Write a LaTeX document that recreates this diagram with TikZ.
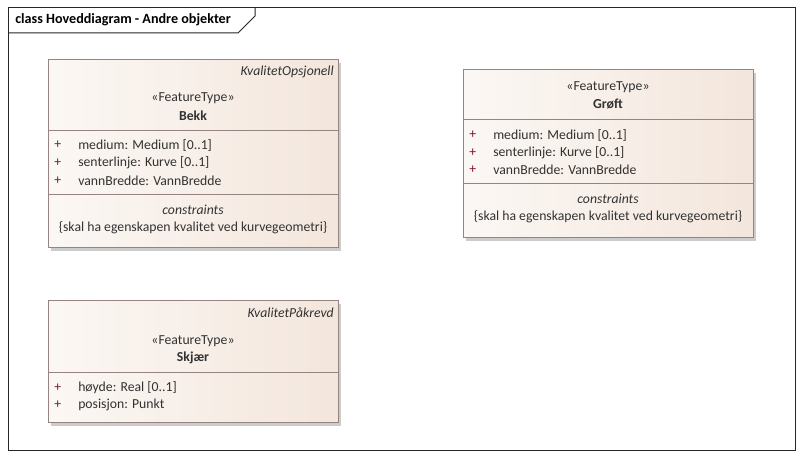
\documentclass[tikz,border=0pt]{standalone}
\usepackage{fontspec}
\setmainfont{Carlito}
\usetikzlibrary{positioning}
\definecolor{umlborder}{RGB}{150,132,128}
\definecolor{umlfill}{RGB}{243,230,220}
\definecolor{umltext}{RGB}{50,50,50}
\definecolor{umlplus}{RGB}{130,20,50}

\begin{document}
\begin{tikzpicture}[
    x=0.75pt, y=-0.75pt,
    frame/.style={draw=black!85, line width=0.75pt},
    classbox/.style={draw=umlborder, left color=white!70!umlfill, right color=umlfill, line width=0.75pt},
    shadowbox/.style={fill=black!20, draw=none},
    sepline/.style={draw=umlborder, line width=0.75pt},
    txt/.style={font=\fontsize{10.3}{12}\selectfont, text=umltext, inner sep=0pt},
    stereo/.style={txt},
    cname/.style={txt, font=\fontsize{10.3}{12}\selectfont\bfseries},
    tagged/.style={txt, font=\fontsize{10.3}{12}\selectfont\itshape, anchor=east},
    attr/.style={txt, anchor=west},
    plus/.style={txt, text=umlplus, anchor=west}
]
    \useasboundingbox (0,0) rectangle (804,459);
    \fill[white] (0,0) rectangle (804,459);

    % Frame
    \draw[frame] (8,8) rectangle (795,451);
    \draw[frame] (8,33) -- (238,33) -- (255,16) -- (255,8);
    \node[txt, font=\fontsize{10.6}{12}\selectfont\bfseries, text=black, anchor=west] (title) at (15,20) {class Hoveddiagram - Andre objekter};

    % Bekk
    \fill[shadowbox] (51,63) rectangle (341,251);
    \path[classbox] (48,60) rectangle (338,248);
    \draw[sepline] (48,131) -- (338,131);
    \draw[sepline] (48,195) -- (338,195);
    \node[tagged] (bekktag) at (334,72) {KvalitetOpsjonell};
    \node[stereo] (bekkst) at (193,98) {«FeatureType»};
    \node[cname] (bekk) at (193,116) {Bekk};
    \node[plus] (bekkp1) at (54,145) {+};
    \node[plus] (bekkp2) at (54,163) {+};
    \node[plus] (bekkp3) at (54,181) {+};
    \node[attr] (bekka1) at (78,145) {medium: Medium [0..1]};
    \node[attr] (bekka2) at (78,163) {senterlinje: Kurve [0..1]};
    \node[attr] (bekka3) at (78,181) {vannBredde: VannBredde};
    \node[txt, font=\fontsize{10.3}{12}\selectfont\itshape] (bekkc) at (193,210) {constraints};
    \node[txt] (bekkk) at (193,228) {\{skal ha egenskapen kvalitet ved kurvegeometri\}};

    % Grøft
    \fill[shadowbox] (466,73) rectangle (756,241);
    \path[classbox] (463,70) rectangle (753,238);
    \draw[sepline] (463,120) -- (753,120);
    \draw[sepline] (463,184) -- (753,184);
    \node[stereo] (groftst) at (608,87) {«FeatureType»};
    \node[cname] (groft) at (608,104) {Grøft};
    \node[plus] (groftp1) at (469,135) {+};
    \node[plus] (groftp2) at (469,153) {+};
    \node[plus] (groftp3) at (469,170) {+};
    \node[attr] (grofta1) at (493,135) {medium: Medium [0..1]};
    \node[attr] (grofta2) at (493,153) {senterlinje: Kurve [0..1]};
    \node[attr] (grofta3) at (493,170) {vannBredde: VannBredde};
    \node[txt, font=\fontsize{10.3}{12}\selectfont\itshape] (groftc) at (608,199) {constraints};
    \node[txt] (groftk) at (608,217) {\{skal ha egenskapen kvalitet ved kurvegeometri\}};

    % Skjær
    \fill[shadowbox] (51,304) rectangle (341,426);
    \path[classbox] (48,301) rectangle (338,423);
    \draw[sepline] (48,373) -- (338,373);
    \node[tagged] (skjaertag) at (334,313) {KvalitetPåkrevd};
    \node[stereo] (skjaerst) at (193,341) {«FeatureType»};
    \node[cname] (skjaer) at (193,358) {Skjær};
    \node[plus] (skjaerp1) at (54,388) {+};
    \node[plus] (skjaerp2) at (54,405) {+};
    \node[attr] (skjaera1) at (78,388) {høyde: Real [0..1]};
    \node[attr] (skjaera2) at (78,405) {posisjon: Punkt};
\end{tikzpicture}
\end{document}
